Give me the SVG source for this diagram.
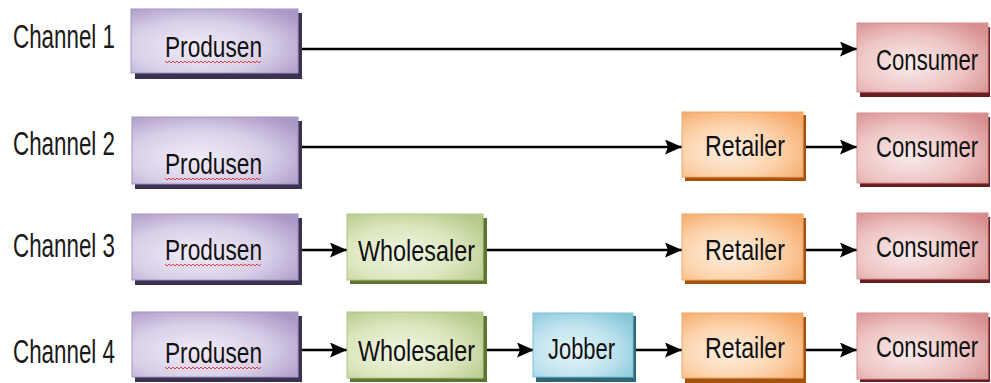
<svg xmlns="http://www.w3.org/2000/svg" width="991" height="383" viewBox="0 0 991 383">
  <defs>
    <radialGradient id="gPurple" cx="40%" cy="60%" r="75%">
      <stop offset="0" stop-color="#f1ecf7"/>
      <stop offset="0.55" stop-color="#d9cfe8"/>
      <stop offset="1" stop-color="#a999c6"/>
    </radialGradient>
    <radialGradient id="gGreen" cx="40%" cy="60%" r="75%">
      <stop offset="0" stop-color="#f1f5e4"/>
      <stop offset="0.55" stop-color="#dbe6bd"/>
      <stop offset="1" stop-color="#b5c98a"/>
    </radialGradient>
    <radialGradient id="gBlue" cx="40%" cy="60%" r="75%">
      <stop offset="0" stop-color="#e6f5f9"/>
      <stop offset="0.55" stop-color="#bfe3ee"/>
      <stop offset="1" stop-color="#86c7da"/>
    </radialGradient>
    <radialGradient id="gOrange" cx="40%" cy="60%" r="75%">
      <stop offset="0" stop-color="#fef0e2"/>
      <stop offset="0.55" stop-color="#fcd2aa"/>
      <stop offset="1" stop-color="#f5a867"/>
    </radialGradient>
    <radialGradient id="gPink" cx="40%" cy="60%" r="75%">
      <stop offset="0" stop-color="#f9ecec"/>
      <stop offset="0.55" stop-color="#eec4c4"/>
      <stop offset="1" stop-color="#d78e8e"/>
    </radialGradient>
    <marker id="head" viewBox="0 0 17 15" refX="17" refY="7.5" markerWidth="17" markerHeight="15" markerUnits="userSpaceOnUse" orient="auto">
      <path d="M0,0 L17,7.5 L0,15 L3,7.5 Z" fill="#000"/>
    </marker>
    <!-- spell-check squiggle under the producer label -->
    <path id="squiggle" d="M0,0 l2,2 l2,-2 l2,2 l2,-2 l2,2 l2,-2 l2,2 l2,-2 l2,2 l2,-2 l2,2 l2,-2 l2,2 l2,-2 l2,2 l2,-2 l2,2 l2,-2 l2,2 l2,-2 l2,2 l2,-2 l2,2 l2,-2 l2,2 l2,-2 l2,2 l2,-2 l2,2 l2,-2 l2,2 l2,-2 l2,2 l2,-2 l2,2 l2,-2 l2,2 l2,-2 l2,2 l2,-2 l2,2 l2,-2 l2,2 l2,-2 l2,2 l2,-2 l2,2 l2,-2" fill="none" stroke="#e03030" stroke-width="0.9"/>
  </defs>
  <style>
    .lbl { font-family: "Liberation Sans", Arial, sans-serif; font-size: 33px; fill: #1a1a1a; }
    .txt { font-family: "Liberation Sans", Arial, sans-serif; font-size: 30px; fill: #111; }
    .edge { stroke: #000; stroke-width: 2.5; fill: none; marker-end: url(#head); }
    .purple .face { fill: url(#gPurple); stroke: #a596c2; stroke-width: 1; }
    .purple .shade { fill: #3b3150; }
    .green .face { fill: url(#gGreen); stroke: #b0c585; stroke-width: 1; }
    .green .shade { fill: #5d7530; }
    .blue .face { fill: url(#gBlue); stroke: #7fc0d4; stroke-width: 1; }
    .blue .shade { fill: #2c6778; }
    .orange .face { fill: url(#gOrange); stroke: #f0a565; stroke-width: 1; }
    .orange .shade { fill: #a4520e; }
    .pink .face { fill: url(#gPink); stroke: #d49090; stroke-width: 1; }
    .pink .shade { fill: #6a1e22; }
  </style>
  <rect width="991" height="383" fill="#fff"/>

  <!-- row labels -->
  <g id="labels">
    <text class="lbl" x="13" y="48" textLength="102" lengthAdjust="spacingAndGlyphs">Channel 1</text>
    <text class="lbl" x="13" y="155" textLength="102" lengthAdjust="spacingAndGlyphs">Channel 2</text>
    <text class="lbl" x="13" y="257" textLength="102" lengthAdjust="spacingAndGlyphs">Channel 3</text>
    <text class="lbl" x="13" y="363" textLength="102" lengthAdjust="spacingAndGlyphs">Channel 4</text>
  </g>

  <!-- connectors -->
  <g id="connectors">
    <line class="edge" x1="298" y1="49" x2="857" y2="49"/>
    <line class="edge" x1="298" y1="147" x2="682" y2="147"/>
    <line class="edge" x1="803" y1="147" x2="857" y2="147"/>
    <line class="edge" x1="298" y1="250" x2="347" y2="250"/>
    <line class="edge" x1="483" y1="250" x2="682" y2="250"/>
    <line class="edge" x1="803" y1="250" x2="857" y2="250"/>
    <line class="edge" x1="298" y1="350" x2="347" y2="350"/>
    <line class="edge" x1="483" y1="350" x2="534" y2="350"/>
    <line class="edge" x1="633" y1="350" x2="682" y2="350"/>
    <line class="edge" x1="803" y1="350" x2="857" y2="350"/>
  </g>

  <!-- Channel 1 -->
  <g id="produsen1" class="purple">
    <rect class="shade" x="135" y="13" width="167" height="66"/>
    <rect class="face" x="131" y="9" width="167" height="64"/>
    <text class="txt" x="165" y="57" textLength="97" lengthAdjust="spacingAndGlyphs">Produsen</text>
    <use href="#squiggle" x="165" y="61"/>
  </g>
  <g id="consumer1" class="pink">
    <rect class="shade" x="860" y="27" width="130" height="70"/>
    <rect class="face" x="857" y="23" width="131" height="69"/>
    <text class="txt" transform="translate(876,70) scale(0.739,1)">Consumer</text>
  </g>

  <!-- Channel 2 -->
  <g id="produsen2" class="purple">
    <rect class="shade" x="135" y="121" width="167" height="68"/>
    <rect class="face" x="132" y="117" width="166" height="67"/>
    <text class="txt" x="165" y="174" textLength="97" lengthAdjust="spacingAndGlyphs">Produsen</text>
    <use href="#squiggle" x="165" y="178"/>
  </g>
  <g id="retailer2" class="orange">
    <rect class="shade" x="685" y="115" width="121" height="66"/>
    <rect class="face" x="682" y="112" width="121" height="65"/>
    <text class="txt" x="705" y="156" textLength="80" lengthAdjust="spacingAndGlyphs">Retailer</text>
  </g>
  <g id="consumer2" class="pink">
    <rect class="shade" x="860" y="117" width="130" height="70"/>
    <rect class="face" x="857" y="113" width="131" height="70"/>
    <text class="txt" transform="translate(876,157) scale(0.739,1)">Consumer</text>
  </g>

  <!-- Channel 3 -->
  <g id="produsen3" class="purple">
    <rect class="shade" x="135" y="218" width="167" height="67"/>
    <rect class="face" x="132" y="214" width="166" height="66"/>
    <text class="txt" x="165" y="260" textLength="97" lengthAdjust="spacingAndGlyphs">Produsen</text>
    <use href="#squiggle" x="165" y="264"/>
  </g>
  <g id="wholesaler3" class="green">
    <rect class="shade" x="350" y="218" width="137" height="66"/>
    <rect class="face" x="347" y="214" width="136" height="66"/>
    <text class="txt" x="358" y="261" textLength="117" lengthAdjust="spacingAndGlyphs">Wholesaler</text>
  </g>
  <g id="retailer3" class="orange">
    <rect class="shade" x="685" y="218" width="121" height="66"/>
    <rect class="face" x="682" y="214" width="121" height="66"/>
    <text class="txt" x="705" y="260" textLength="80" lengthAdjust="spacingAndGlyphs">Retailer</text>
  </g>
  <g id="consumer3" class="pink">
    <rect class="shade" x="860" y="217" width="130" height="66"/>
    <rect class="face" x="857" y="213" width="131" height="66"/>
    <text class="txt" transform="translate(876,257) scale(0.739,1)">Consumer</text>
  </g>

  <!-- Channel 4 -->
  <g id="produsen4" class="purple">
    <rect class="shade" x="135" y="316" width="167" height="66"/>
    <rect class="face" x="132" y="312" width="166" height="65"/>
    <text class="txt" x="165" y="363" textLength="97" lengthAdjust="spacingAndGlyphs">Produsen</text>
    <use href="#squiggle" x="165" y="367"/>
  </g>
  <g id="wholesaler4" class="green">
    <rect class="shade" x="350" y="316" width="137" height="66"/>
    <rect class="face" x="347" y="312" width="136" height="66"/>
    <text class="txt" x="358" y="361" textLength="117" lengthAdjust="spacingAndGlyphs">Wholesaler</text>
  </g>
  <g id="jobber4" class="blue">
    <rect class="shade" x="536" y="316" width="100" height="66"/>
    <rect class="face" x="533" y="313" width="100" height="64"/>
    <text class="txt" x="548" y="359" textLength="67" lengthAdjust="spacingAndGlyphs">Jobber</text>
  </g>
  <g id="retailer4" class="orange">
    <rect class="shade" x="685" y="317" width="121" height="66"/>
    <rect class="face" x="682" y="313" width="121" height="65"/>
    <text class="txt" x="705" y="358" textLength="80" lengthAdjust="spacingAndGlyphs">Retailer</text>
  </g>
  <g id="consumer4" class="pink">
    <rect class="shade" x="860" y="317" width="130" height="65"/>
    <rect class="face" x="857" y="313" width="131" height="66"/>
    <text class="txt" transform="translate(876,357) scale(0.739,1)">Consumer</text>
  </g>
</svg>
